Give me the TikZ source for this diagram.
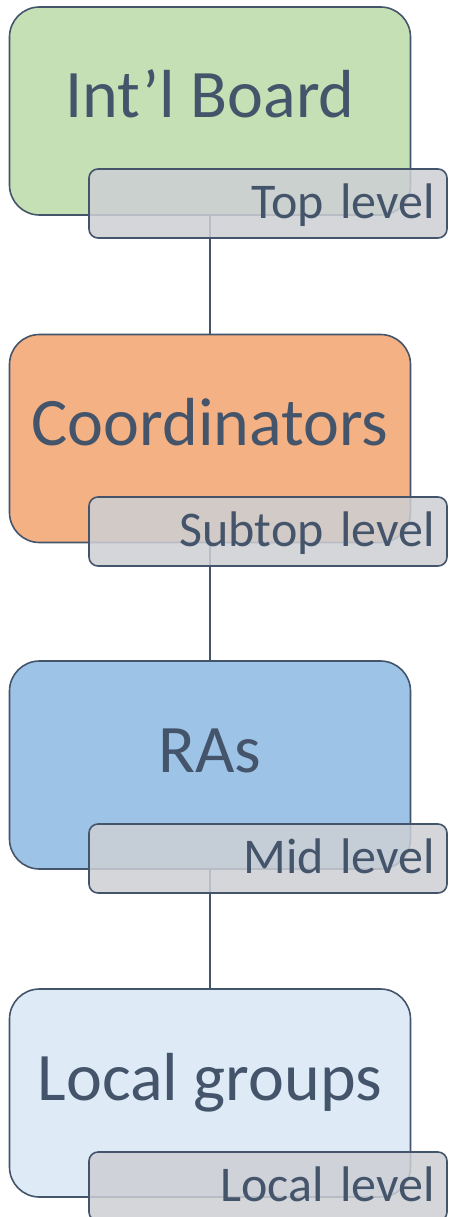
\documentclass[tikz,border=0pt]{standalone}
\usepackage{fontspec}
\setmainfont{Carlito}
\definecolor{slate}{HTML}{44546A}
\definecolor{boardgreen}{HTML}{C5E0B4}
\definecolor{coordorange}{HTML}{F4B183}
\definecolor{rablue}{HTML}{9DC3E6}
\definecolor{localblue}{HTML}{DEEBF7}
\definecolor{tagfill}{HTML}{CDCFD4}
\begin{document}
\begin{tikzpicture}[x=1pt,y=-1pt,line join=round,line cap=round,
	lvlbox/.style={draw=slate,line width=1.6pt,rounded corners=30pt,minimum width=401pt,minimum height=208pt,inner sep=0pt,
		text=slate,text height=14pt,text depth=0pt,font=\fontsize{68}{80}\selectfont},
	lvltag/.style={draw=slate,line width=1.6pt,rounded corners=9pt,fill=tagfill,fill opacity=0.85,text opacity=1,text=slate,
		minimum width=358pt,minimum height=69pt,inner xsep=12pt,inner ysep=0pt,align=right,text width=334pt,
		text height=29pt,text depth=0pt,font=\fontsize{50}{60}\selectfont},
	link/.style={draw=slate,line width=1.6pt}]
	\useasboundingbox (0,0) rectangle (448,1217);
	% the four levels
	\node[lvlbox,fill=boardgreen] (board) at (210,111) {Int'l Board};
	\node[lvlbox,fill=coordorange] (coord) at (210,438.5) {Coordinators};
	\node[lvlbox,fill=rablue] (ras) at (210,765) {RAs};
	\node[lvlbox,fill=localblue] (local) at (210,1093) {Local groups};
	% links run under the tags
	\draw[link] (board.south)--(coord.north);
	\draw[link] (coord.south)--(ras.north);
	\draw[link] (ras.south)--(local.north);
	% level tags
	\node[lvltag] (toptag) at (268,203.5) {Top level};
	\node[lvltag] (subtag) at (268,531.5) {Subtop level};
	\node[lvltag] (midtag) at (268,858.5) {Mid level};
	\node[lvltag] (loctag) at (268,1186.5) {Local level};
\end{tikzpicture}
\end{document}
